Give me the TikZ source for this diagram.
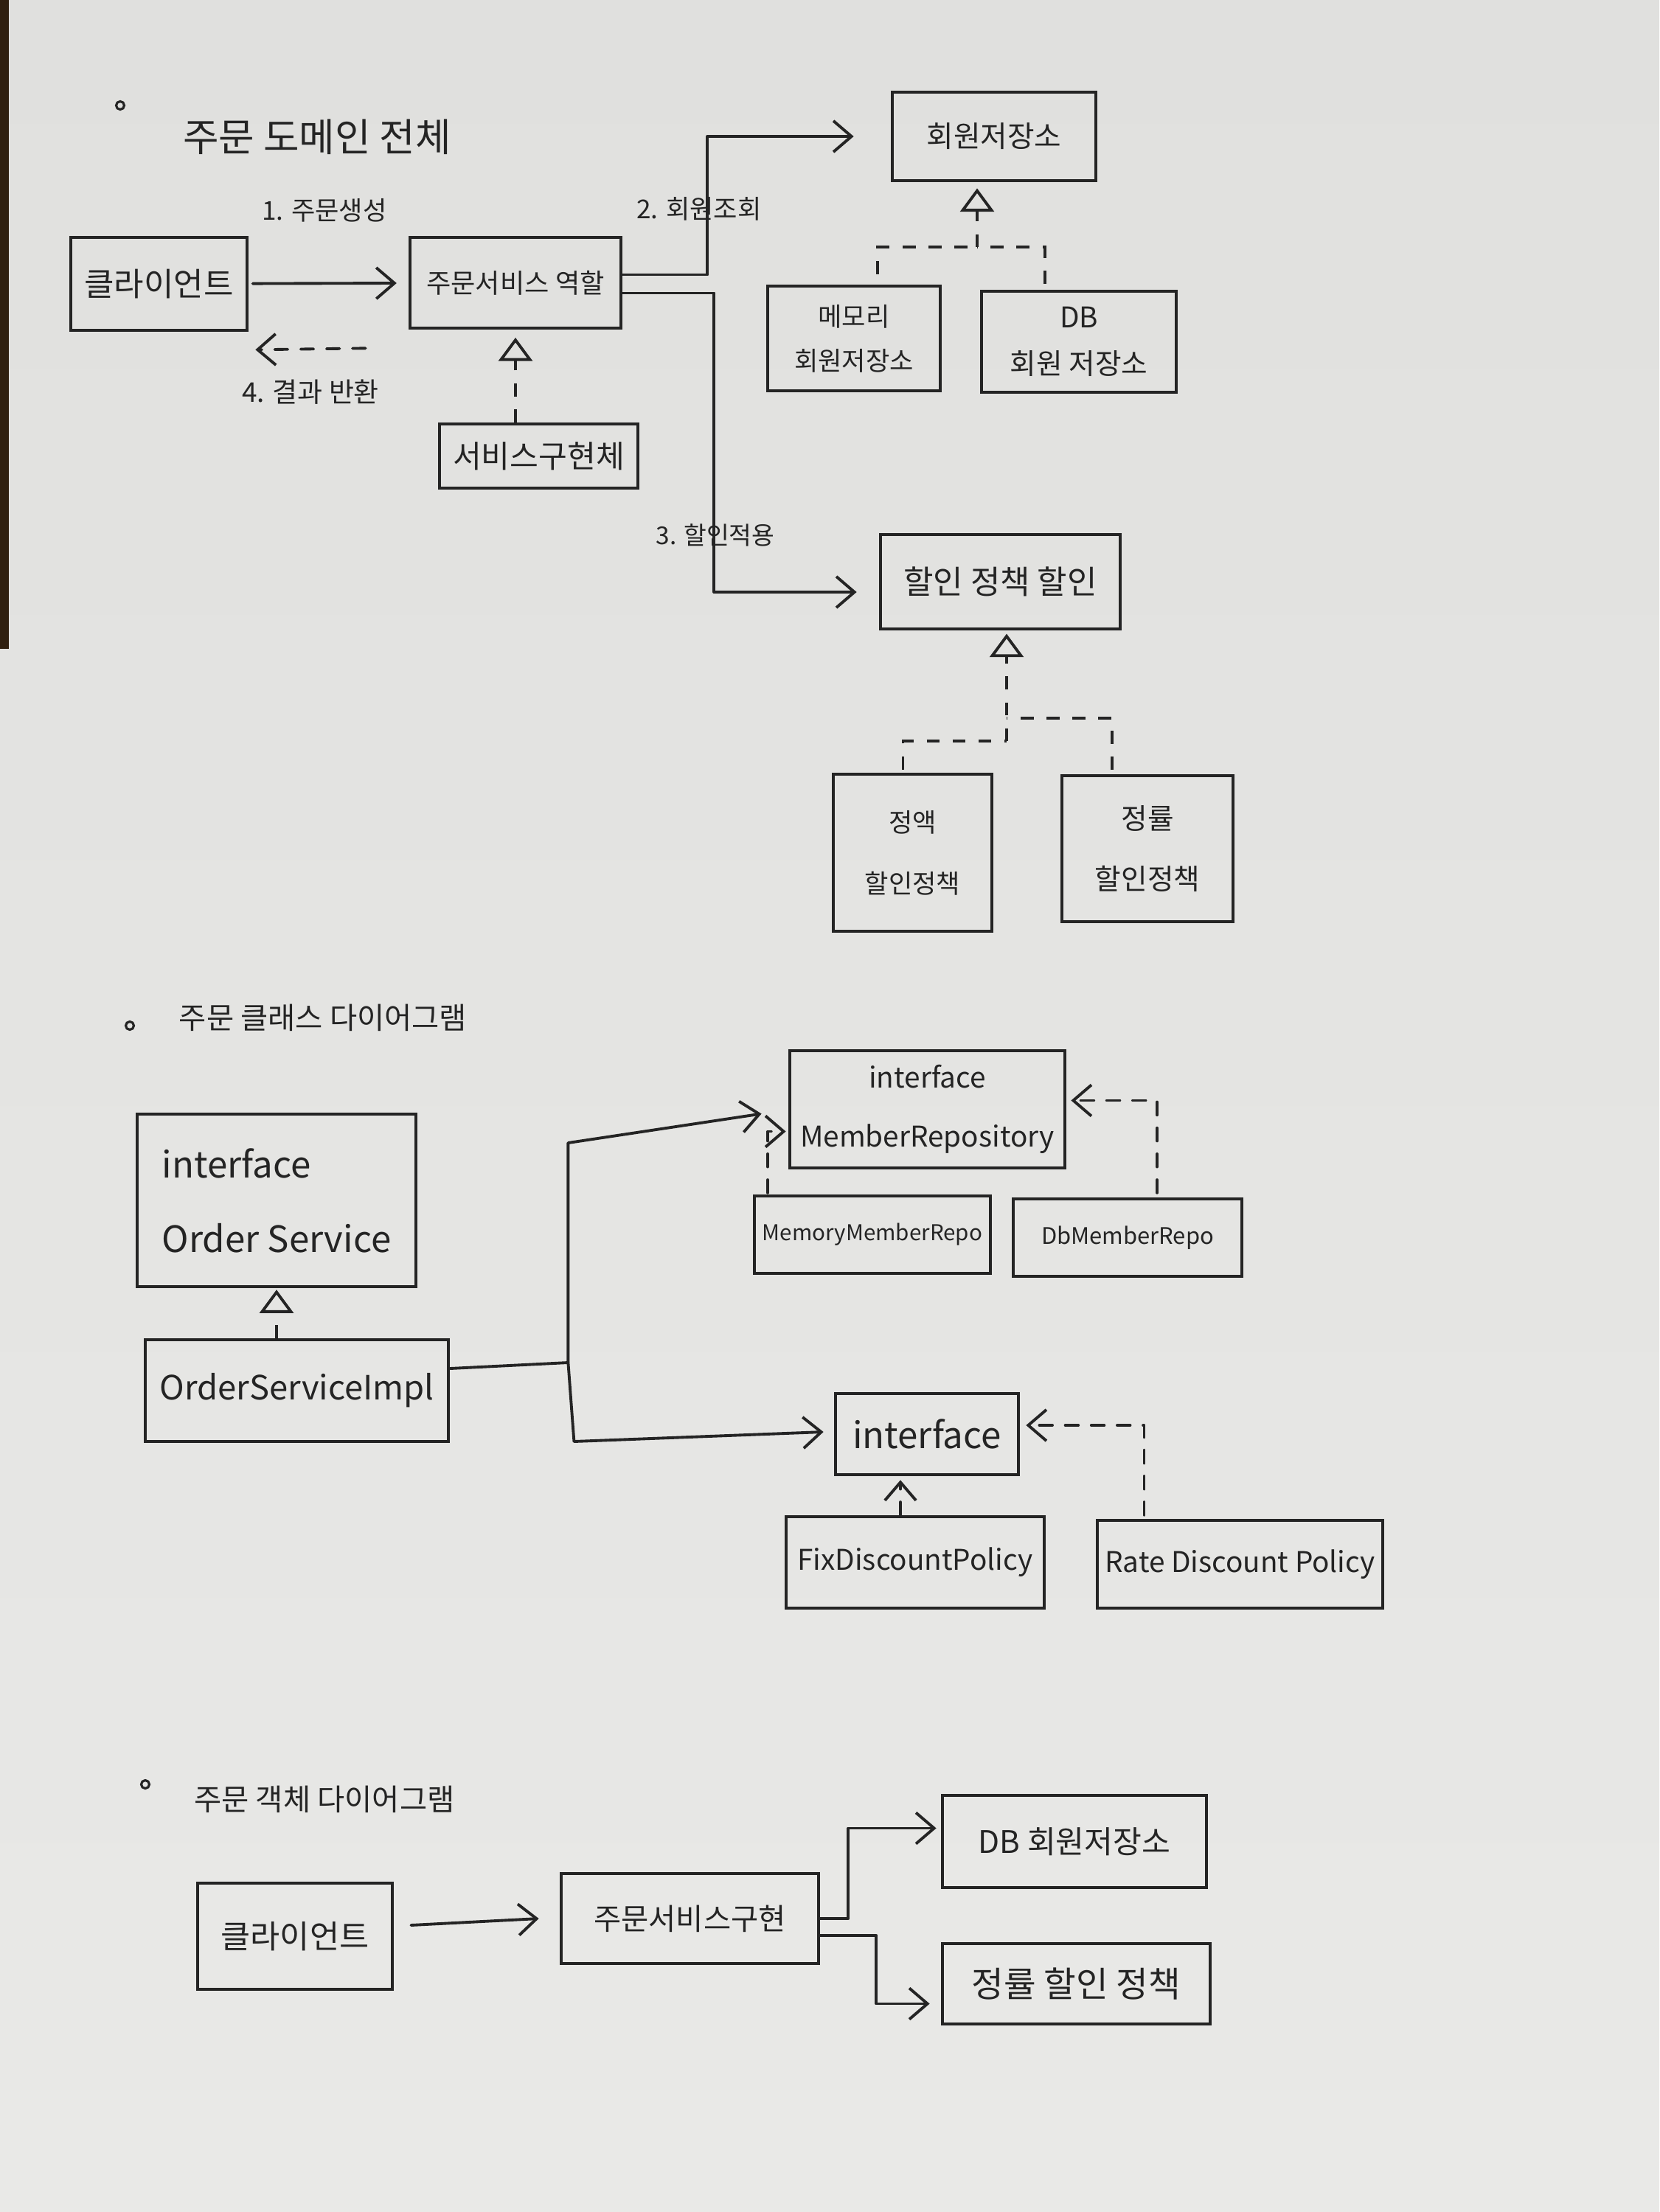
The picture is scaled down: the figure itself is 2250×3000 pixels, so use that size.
\documentclass[tikz,border=0pt]{standalone}
\usepackage{fontspec}
\setmainfont{Noto Sans CJK KR}
\usetikzlibrary{arrows.meta,calc}
\definecolor{paper}{RGB}{224,224,222}
\definecolor{paperlow}{RGB}{233,233,231}
\definecolor{ink}{RGB}{36,36,36}
\begin{document}
\begin{tikzpicture}[x=0.01cm,y=-0.01cm,
  every node/.style={text=ink},
  box/.style={draw=ink, line width=1.3pt, inner sep=0pt, align=center},
  lbl/.style={inner sep=0pt},
  bulletdot/.style={circle, draw=ink, line width=0.9pt, minimum size=0.11cm, inner sep=0pt},
  arr/.style={draw=ink, line width=1.1pt, line join=round, line cap=round, -{Straight Barb[length=7pt,width=12pt,line width=1.1pt]}},
  darr/.style={arr, dash pattern=on 5pt off 5pt},
  dline/.style={draw=ink, line width=1.1pt, dash pattern=on 5pt off 5pt},
  real/.style={draw=ink, line width=1.1pt, dash pattern=on 5pt off 5pt, -{Triangle[open, length=9pt, width=13pt, line width=1.1pt]}},
  fs/.style={font=\fontsize{#1}{#1}\selectfont}
]
% paper
\shade[top color=paper, bottom color=paperlow] (0,0) rectangle (2250,3000);
\fill[black!75!brown] (0,0) rectangle (12,880);
\useasboundingbox (0,0) rectangle (2250,3000);

% ================= section 1 =================
\node[bulletdot] (b1) at (163,143) {};
\node[lbl, fs=15] (title1) at (430,186) {주문 도메인 전체};

\node[box, fs=12.5, minimum width=2.39cm, minimum height=1.26cm] (client) at (215.5,385) {클라이언트};
\node[box, fs=10.3, minimum width=2.86cm, minimum height=1.23cm] (role) at (699,383.5) {주문서비스 역할};
\node[box, fs=12, minimum width=2.69cm, minimum height=0.87cm] (svcimpl) at (730.5,618.5) {서비스구현체};
\node[box, fs=11.3, minimum width=2.76cm, minimum height=1.2cm] (memrepo) at (1348,185) {회원저장소};
\node[box, fs=10, minimum width=2.34cm, minimum height=1.42cm] (memmem) at (1158,459) {메모리\\[7pt]회원저장소};
\node[box, fs=11, minimum width=2.64cm, minimum height=1.37cm] (dbmem) at (1463,463.5) {DB\\[7pt]회원 저장소};
\node[box, fs=12.5, minimum width=3.25cm, minimum height=1.28cm] (discrole) at (1356.5,789) {할인 정책 할인};
\node[box, fs=10, minimum width=2.15cm, minimum height=2.13cm] (fixdisc) at (1237.5,1156.5) {정액\\[13.6pt]할인정책};
\node[box, fs=11, minimum width=2.32cm, minimum height=1.98cm] (ratedisc) at (1556,1151) {정률\\[12.6pt]할인정책};

\node[lbl, fs=10] (lab1) at (440,285) {1. 주문생성};
\node[lbl, fs=10.5] (lab4) at (421,532) {4. 결과 반환};
\node[lbl, fs=10] (lab2) at (948,283) {2. 회원조회};
\node[lbl, fs=9.5] (lab3) at (970,726) {3. 할인적용};

\draw[arr, shorten <=1.5pt, shorten >=4.5pt] (client) -- (role);
\coordinate (r4s) at ($(role.south west)+(-58,25)$);
\coordinate (r4e) at ($(client.south east)+(9,24)$);
\draw[darr] (r4s) -- (r4e);
\draw[arr] ($(role.east)+(0,-11)$) -- ++(115,0) |- ($(memrepo.west)+(-50,0)$);
\draw[arr] ($(role.east)+(0,14)$) -- ++(124,0) |- ($(discrole.west)+(-30,14)$);
\draw[real, shorten >=3pt] (svcimpl.north -| role.south) -- (role.south);

\coordinate (j1) at ($(memrepo.south)+(-23,88)$);
\draw[real, shorten >=2.3pt] (j1) -- (j1 |- memrepo.south);
\draw[dline] ($(memmem.north)+(32,-14)$) |- (j1);
\draw[dline] ($(dbmem.north)+(-46,-8)$) |- (j1);

\coordinate (j2) at ($(discrole.south)+(8.5,150)$);
\draw[real, shorten >=1.2pt] (j2) -- (j2 |- discrole.south);
\draw[dline] ($(fixdisc.north)+(-13,-4)$) |- (j2);
\draw[dline] ($(ratedisc.north)+(-48,-6)$) |- ($(j2)+(0,-31)$);

% ================= section 2 =================
\node[bulletdot] (b2) at (176,1391) {};
\node[lbl, fs=11.5] (title2) at (438,1380) {주문 클래스 다이어그램};

\node[box, fs=14, minimum width=3.78cm, minimum height=2.34cm, align=left] (osvc) at (375,1628) {interface\\[14.7pt]Order Service};
\node[box, fs=12.9, minimum width=4.11cm, minimum height=1.38cm] (oimpl) at (402.5,1886) {OrderServiceImpl};
\node[box, fs=11, minimum width=3.73cm, minimum height=1.59cm] (mrepo) at (1257.5,1504.5) {interface\\[11.8pt]MemberRepository};
\node[box, fs=8.4, minimum width=3.2cm, minimum height=1.05cm] (memrepo2) at (1183,1674.5) {MemoryMemberRepo};
\node[box, fs=8.8, minimum width=3.1cm, minimum height=1.05cm] (dbrepo2) at (1529,1678.5) {DbMemberRepo};
\node[box, fs=14, minimum width=2.48cm, minimum height=1.1cm] (dpol) at (1257,1945) {interface};
\node[box, fs=11, minimum width=3.5cm, minimum height=1.24cm] (fixp) at (1241,2119) {FixDiscountPolicy};
\node[box, fs=11, minimum width=3.87cm, minimum height=1.19cm] (ratep) at (1681.5,2121.5) {Rate Discount Policy};

\draw[real, shorten >=0.5pt] (oimpl.north -| osvc.south) -- (osvc.south);
\coordinate (j3) at ($(oimpl.east)+(160,-38)$);
\draw[arr] ($(oimpl.east)+(0,-30)$) -- (j3) -- ++(0,-298) -- ($(mrepo.west)+(-36,6)$);
\draw[arr] (j3) -- ++(8,107) -- ($(dpol.west)+(-14,-3)$);
\draw[darr] ($(memrepo2.north)+(-142,-2)$) |- ($(mrepo.west)+(-3,30)$);
\draw[darr] ($(dbrepo2.north)+(40,-6)$) |- ($(mrepo.east)+(6,-12)$);
\draw[darr] ($(fixp.north)+(-20,0)$) -- ($(dpol.south)+(-36,5)$);
\draw[darr] ($(ratep.north)+(-130,-5)$) |- ($(dpol.east)+(8,-12)$);

% ================= section 3 =================
\node[bulletdot] (b3) at (197,2420) {};
\node[lbl, fs=11.5] (title3) at (440,2440) {주문 객체 다이어그램};

\node[box, fs=12.4, minimum width=2.64cm, minimum height=1.44cm] (client3) at (400,2626) {클라이언트};
\node[box, fs=11.5, minimum width=3.49cm, minimum height=1.22cm] (impl3) at (935.5,2602) {주문서비스구현};
\node[box, fs=12, minimum width=3.58cm, minimum height=1.25cm] (db3) at (1457,2497.5) {DB 회원저장소};
\node[box, fs=13.5, minimum width=3.63cm, minimum height=1.09cm] (rate3) at (1459.5,2690.5) {정률 할인 정책};

\draw[arr] ($(client3.east)+(23,-15)$) -- ($(impl3.west)+(-28,0)$);
\draw[arr] (impl3.east) -- ++(38,0) |- ($(db3.west)+(-6,-18)$);
\draw[arr] ($(impl3.east)+(0,23)$) -- ++(76,0) |- ($(rate3.west)+(-15,27)$);
\end{tikzpicture}
\end{document}
